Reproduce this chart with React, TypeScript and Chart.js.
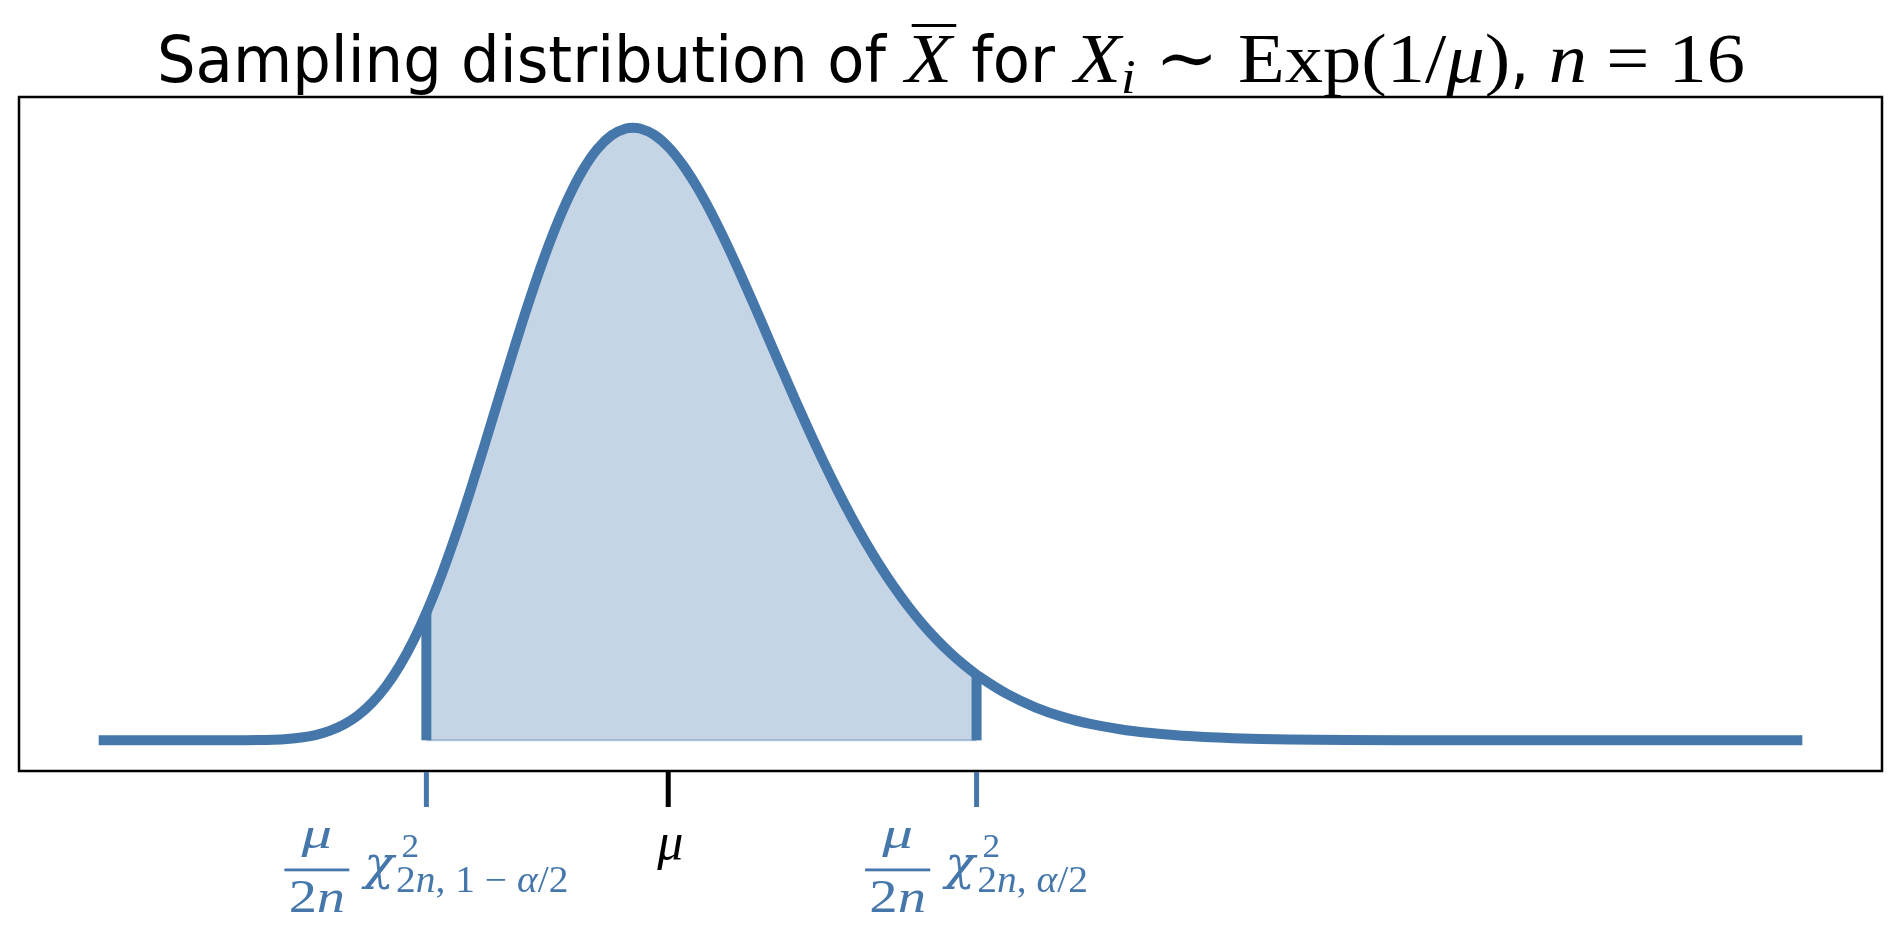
import React, { useEffect, useRef } from "react";
import { Chart, registerables } from "chart.js";
Chart.register(...registerables);

// Density of the sampling distribution, x in units of mu
const xValues = [0, 0.1, 0.15, 0.2, 0.225, 0.25, 0.275, 0.3, 0.325, 0.35, 0.375, 0.4, 0.425, 0.45, 0.475, 0.5, 0.525, 0.55, 0.5716, 0.6, 0.625, 0.65, 0.675, 0.7, 0.725, 0.75, 0.775, 0.8, 0.825, 0.85, 0.875, 0.9, 0.925, 0.9375, 0.95, 0.975, 1.0, 1.025, 1.05, 1.075, 1.1, 1.125, 1.15, 1.175, 1.2, 1.225, 1.25, 1.275, 1.3, 1.325, 1.35, 1.375, 1.4, 1.425, 1.45, 1.475, 1.5, 1.525, 1.5462, 1.55, 1.6, 1.65, 1.7, 1.75, 1.8, 1.85, 1.9, 1.95, 2.0, 2.05, 2.1, 2.2, 2.3, 2.4, 2.6, 2.8, 3.0];
const densityValues = [0, 0, 0.0000006, 0.0000188, 0.0000738, 0.00024, 0.000674, 0.00167, 0.00371, 0.00756, 0.01427, 0.0252, 0.04189, 0.0662, 0.0998, 0.1444, 0.2012, 0.2711, 0.3419, 0.4492, 0.5555, 0.6706, 0.7918, 0.9158, 1.0391, 1.1583, 1.2697, 1.3703, 1.4573, 1.5287, 1.5828, 1.6189, 1.6368, 1.639, 1.6368, 1.6199, 1.5875, 1.5412, 1.4829, 1.4148, 1.3389, 1.2572, 1.1718, 1.0846, 0.997, 0.9105, 0.8264, 0.7455, 0.6687, 0.5965, 0.5293, 0.4672, 0.4104, 0.3587, 0.3121, 0.2704, 0.2332, 0.2003, 0.1755, 0.1714, 0.124, 0.0884, 0.0621, 0.0431, 0.0296, 0.0201, 0.0134, 0.0089, 0.0059, 0.0038, 0.0025, 0.001, 0.00039, 0.00015, 0.00002, 0, 0];

const lowerQ = 0.5716;
const upperQ = 1.5462;
const muValue = 1;
const tickValues = [lowerQ, muValue, upperQ];

const xLimits = [-0.15, 3.15];
const yLimits = [-0.082, 1.721];

const BLUE = "#4677AB";
const SERIF = '"Liberation Serif", "DejaVu Serif", serif';
const DSERIF = '"DejaVu Serif", serif';
const SANS = '"DejaVu Sans", sans-serif';

type Piece = { t: string; f: string; dy?: number; over?: boolean; sx?: number };

function fI(s: number) { return `italic ${s}px ${SERIF}`; }
function fR(s: number) { return `${s}px ${SERIF}`; }
function fS(s: number) { return `${s}px ${SANS}`; }

function drawTitle(ctx: CanvasRenderingContext2D) {
  const M = 70, SM = 48, T = 64, MS = 1.15;
  const pieces: Piece[] = [
    { t: "Sampling distribution of ", f: fS(T) },
    { t: "X", f: fI(M), over: true, sx: MS },
    { t: " for ", f: fS(T) },
    { t: "X", f: fI(M), sx: MS },
    { t: "i", f: fI(SM), dy: 11, sx: MS },
    { t: " \u223C ", f: fR(M), sx: MS },
    { t: "Exp(1/", f: fR(M), sx: MS },
    { t: "\u03BC", f: fI(M), sx: MS },
    { t: ")", f: fR(M), sx: MS },
    { t: ", ", f: fS(T) },
    { t: "n", f: fI(M), sx: MS },
    { t: " = ", f: fR(M), sx: MS },
    { t: "16", f: fR(M), sx: MS },
  ];
  let total = 0;
  const widths = pieces.map((p) => { ctx.font = p.f; const w = ctx.measureText(p.t).width * (p.sx || 1); total += w; return w; });
  const left = 157, right = 1745, base = 82;
  const g = (right - left) / total;
  ctx.save();
  ctx.translate(left, base);
  ctx.scale(g, 1);
  ctx.fillStyle = "#000";
  ctx.textBaseline = "alphabetic";
  ctx.textAlign = "left";
  let x = 0;
  pieces.forEach((p, i) => {
    ctx.save();
    ctx.translate(x, 0);
    ctx.scale(p.sx || 1, 1);
    ctx.font = p.f;
    ctx.fillText(p.t, 0, p.dy || 0);
    if (p.over) ctx.fillRect(6, -58, widths[i] / (p.sx || 1) - 2, 3);
    ctx.restore();
    x += widths[i];
  });
  ctx.restore();
}

type Sub = { t: string; i?: boolean };

function drawFracLabel(ctx: CanvasRenderingContext2D, cx: number, color: string, sub: Sub[], targetW: number) {
  const F = 46, S = 37, SUP = 33;
  const MUS = 1.3, DENS = 1.15;
  const chiFont = `italic 46px ${DSERIF}`;
  ctx.font = fI(44); const wMu = ctx.measureText("\u03BC").width * MUS;
  ctx.font = fR(F); const w2 = ctx.measureText("2").width * DENS;
  ctx.font = fI(F); const wn = ctx.measureText("n").width * DENS;
  const barW = Math.max(wMu, w2 + wn) + 8;
  const gap = 14;
  ctx.font = chiFont; const wChi = ctx.measureText("\u03C7").width;
  let wSub = 0;
  const subW = sub.map((p) => { ctx.font = p.i ? fI(S) : fR(S); const w = ctx.measureText(p.t).width; wSub += w; return w; });
  const natural = barW + gap + wChi + 2 + wSub;
  const sx = targetW / natural;
  ctx.save();
  ctx.translate(cx - targetW / 2, 0);
  ctx.scale(sx, 1);
  ctx.fillStyle = color;
  ctx.textBaseline = "alphabetic";
  ctx.textAlign = "left";
  ctx.fillRect(0, 868.5, barW, 2.8);
  ctx.save();
  ctx.translate((barW - wMu) / 2, 848);
  ctx.scale(MUS, 1);
  ctx.font = fI(44);
  ctx.fillText("\u03BC", 0, 0);
  ctx.restore();
  const dx = (barW - (w2 + wn)) / 2;
  ctx.save();
  ctx.translate(dx, 912);
  ctx.scale(DENS, 1);
  ctx.font = fR(F); ctx.fillText("2", 0, 0);
  ctx.font = fI(F); ctx.fillText("n", w2 / DENS, 0);
  ctx.restore();
  const chiX = barW + gap;
  ctx.font = chiFont; ctx.fillText("\u03C7", chiX, 879);
  const sX = chiX + wChi + 2;
  ctx.font = fR(SUP); ctx.fillText("2", sX + 5, 857);
  let x = sX;
  sub.forEach((p, i) => { ctx.font = p.i ? fI(S) : fR(S); ctx.fillText(p.t, x, 892); x += subW[i]; });
  ctx.restore();
}

const decorations = {
  id: "decorations",
  afterDraw(chart: any) {
    const { ctx, chartArea: a, scales } = chart;
    ctx.save();
    ctx.strokeStyle = "#000";
    ctx.lineWidth = 2.5;
    ctx.strokeRect(a.left, a.top, a.right - a.left, a.bottom - a.top);
    const colors = [BLUE, "#000", BLUE];
    const px = tickValues.map((v) => scales.x.getPixelForValue(v));
    px.forEach((p, i) => {
      ctx.strokeStyle = colors[i];
      ctx.lineWidth = 5;
      ctx.beginPath();
      ctx.moveTo(p, a.bottom + 1);
      ctx.lineTo(p, a.bottom + 36);
      ctx.stroke();
    });
    drawFracLabel(ctx, px[0], BLUE, [{ t: "2" }, { t: "n", i: true }, { t: ", " }, { t: "1" }, { t: " \u2212 " }, { t: "\u03B1", i: true }, { t: "/2" }], 284);
    drawFracLabel(ctx, px[2], BLUE, [{ t: "2" }, { t: "n", i: true }, { t: ", " }, { t: "\u03B1", i: true }, { t: "/2" }], 223);
    ctx.fillStyle = "#000";
    ctx.font = fI(52);
    ctx.textAlign = "center";
    ctx.textBaseline = "alphabetic";
    ctx.fillText("\u03BC", px[1] + 2, 859);
    drawTitle(ctx);
    ctx.restore();
  },
};

export default function App() {
  const ref = useRef<HTMLCanvasElement | null>(null);
  useEffect(() => {
    if (!ref.current) return;
    const curve = xValues.map((x, i) => ({ x, y: densityValues[i] }));
    const band = curve.filter((p) => p.x >= lowerQ && p.x <= upperQ);
    const dLow = densityValues[xValues.indexOf(lowerQ)];
    const dUp = densityValues[xValues.indexOf(upperQ)];
    const chart = new Chart(ref.current, {
      type: "line",
      data: {
        datasets: [
          {
            data: curve,
            borderColor: BLUE,
            borderWidth: 10,
            pointRadius: 0,
            cubicInterpolationMode: "monotone",
            borderCapStyle: "square",
            borderJoinStyle: "round",
            fill: false,
            order: 0,
          },
          {
            data: [{ x: lowerQ, y: 0 }, { x: lowerQ, y: dLow }],
            borderColor: BLUE,
            borderWidth: 10,
            pointRadius: 0,
            borderCapStyle: "butt",
            fill: false,
            order: 1,
          },
          {
            data: [{ x: upperQ, y: 0 }, { x: upperQ, y: dUp }],
            borderColor: BLUE,
            borderWidth: 10,
            pointRadius: 0,
            borderCapStyle: "butt",
            fill: false,
            order: 1,
          },
          {
            data: [{ x: lowerQ, y: 0 }, { x: upperQ, y: 0 }],
            borderColor: "rgba(70,120,171,0.4)",
            borderWidth: 2,
            pointRadius: 0,
            fill: false,
            order: 2,
          },
          {
            data: band,
            borderWidth: 0,
            borderColor: "rgba(0,0,0,0)",
            backgroundColor: "rgba(70,120,171,0.31)",
            pointRadius: 0,
            cubicInterpolationMode: "monotone",
            fill: "origin",
            order: 3,
          },
        ],
      },
      options: {
        responsive: false,
        animation: false,
        devicePixelRatio: 1,
        layout: { padding: { left: 19, right: 18, top: 97, bottom: 162 } },
        plugins: { legend: { display: false }, tooltip: { enabled: false }, title: { display: false } },
        events: [],
        scales: {
          x: { type: "linear", min: xLimits[0], max: xLimits[1], display: false },
          y: { type: "linear", min: yLimits[0], max: yLimits[1], display: false },
        },
      },
      plugins: [decorations],
    } as any);
    return () => chart.destroy();
  }, []);
  return (
    <div style={{ position: "fixed", left: 0, top: 0, width: 1900, height: 933, background: "#fff" }}>
      <canvas ref={ref} width={1900} height={933} style={{ width: 1900, height: 933, display: "block" }} />
    </div>
  );
}
